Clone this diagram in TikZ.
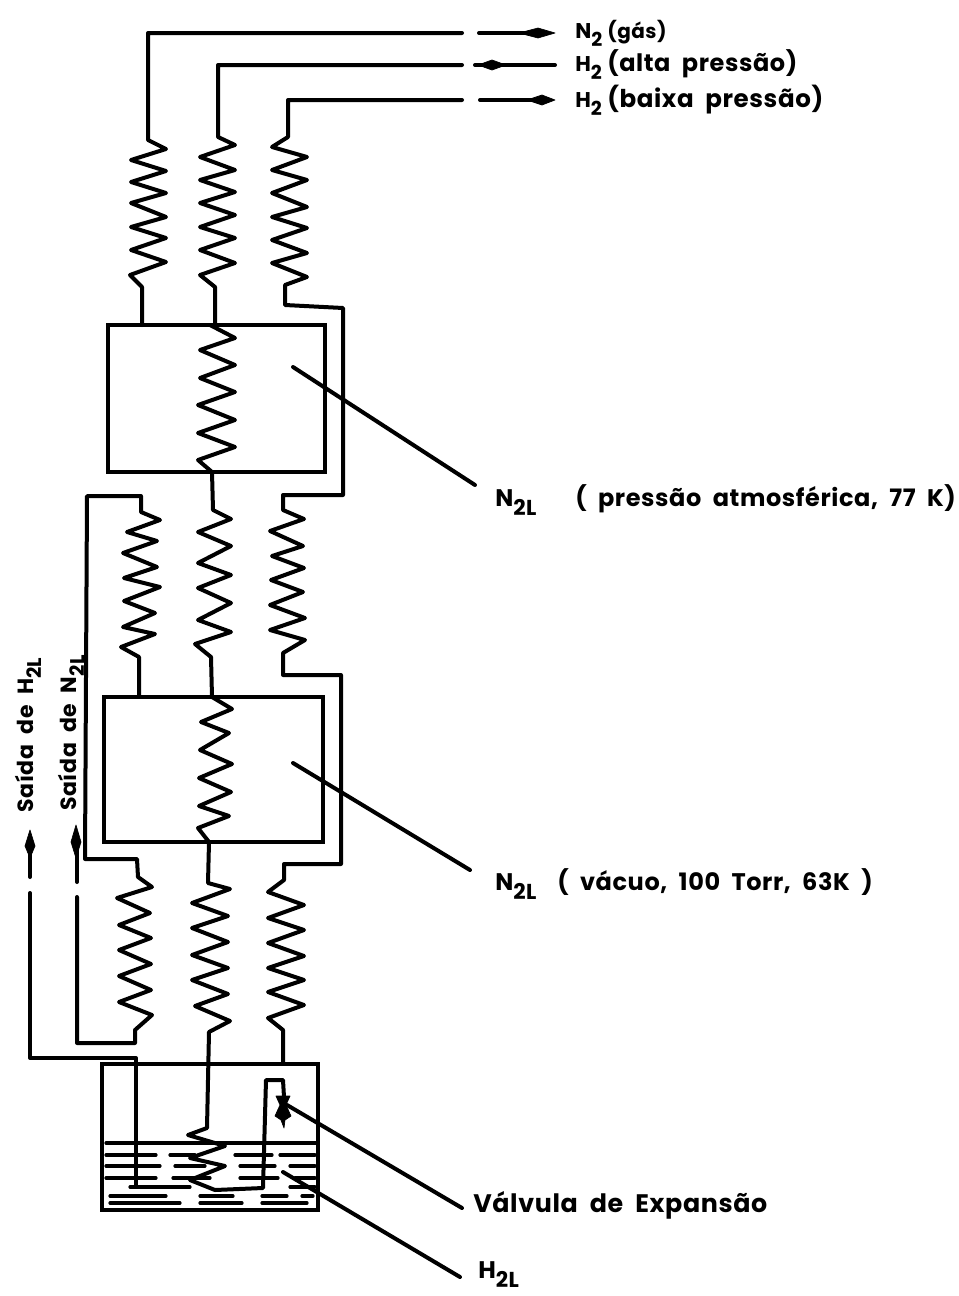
\documentclass[tikz,border=0pt]{standalone}
\usepackage{fontspec}
\setmainfont{Poppins}[LetterSpace=2.5,WordSpace=2]
\newcommand{\lowsub}[1]{\raisebox{-0.4em}{\scalebox{0.9}{#1}}}
\begin{document}
\begin{tikzpicture}[x=0.75pt,y=-0.75pt,
  pipe/.style={line width=3pt,line join=round,line cap=round},
  level/.style={line width=2.4pt,line cap=round},
  lead/.style={line width=3pt,line cap=round},
  tip/.style={fill=black,draw=black,line width=0.5pt,line join=round},
  lbl/.style={anchor=base west,inner sep=0pt,font=\bfseries\fontsize{18}{20}\selectfont},
  toplbl/.style={lbl,font=\bfseries\fontsize{16}{20}\selectfont},
  rlbl/.style={anchor=base,inner sep=0pt,rotate=90,font=\bfseries\fontsize{16.5}{18}\selectfont},
  box/.style={draw,line width=3pt,inner sep=0pt,outer sep=0pt,anchor=north west}]
\useasboundingbox (0,0) rectangle (958,1296);
\fill[white] (0,0) rectangle (958,1296);

% vessels
\node[box,minimum width=217pt*0.75,minimum height=147pt*0.75] (boxA) at (108,325) {};
\node[box,minimum width=219pt*0.75,minimum height=145pt*0.75] (boxB) at (104,697) {};
\node[box,minimum width=216pt*0.75,minimum height=146pt*0.75] (bath) at (102,1064) {};

% top left coil
\draw[pipe] (462,33) -- (148,33) -- (148,140) -- (166,149) -- (131,160) -- (166,171) -- (131,182) -- (166,193) -- (131,203) -- (166,217) -- (131,227) -- (166,238) -- (131,250) -- (166,262) -- (130,275) -- (142,287) -- (142,325);
% top centre coil, through box A and on
\draw[pipe] (462,65) -- (218,65) -- (218,137) -- (235,145) -- (200,157) -- (235,170) -- (200,180) -- (235,192) -- (200,203) -- (235,215) -- (200,227) -- (235,238) -- (200,250) -- (235,263) -- (200,275) -- (215,287) -- (215,325);
\draw[pipe] (210,325) -- (235,338) -- (200,350) -- (235,365) -- (200,378) -- (235,392) -- (198,405) -- (235,420) -- (198,433) -- (235,447) -- (198,460) -- (212,472) -- (213,510) -- (231,519) -- (198,532) -- (231,546) -- (198,563) -- (231,575) -- (198,588) -- (231,603) -- (198,620) -- (231,632) -- (195,644) -- (211,657) -- (212,697) -- (232,709) -- (201,722) -- (229,733) -- (200,750) -- (232,764) -- (199,778) -- (231,792) -- (199,806) -- (229,816) -- (198,828) -- (209,842) -- (208,883) -- (230,889) -- (192,903) -- (228,916) -- (192,928) -- (228,942) -- (192,955) -- (228,968) -- (192,980) -- (228,994) -- (195,1006) -- (230,1021) -- (209,1032) -- (207,1128) -- (188,1135) -- (225,1146) -- (190,1158) -- (225,1166) -- (190,1180) -- (215,1190) -- (263,1188) -- (266,1080) -- (283,1080) -- (284,1097);
% right coil chain
\draw[pipe] (462,100) -- (288,100) -- (288,137) -- (272,147) -- (307,157) -- (272,170) -- (307,180) -- (272,193) -- (307,207) -- (272,217) -- (307,228) -- (272,240) -- (307,253) -- (272,263) -- (307,277) -- (285,285) -- (285,305) -- (343,308) -- (343,495) -- (283,495) -- (283,510) -- (304,519) -- (270,531) -- (303,546) -- (272,556) -- (304,568) -- (271,580) -- (303,592) -- (270,605) -- (305,618) -- (270,630) -- (305,640) -- (283,653) -- (283,675) -- (341,675) -- (341,864) -- (284,864) -- (284,880) -- (268,892) -- (304,905) -- (268,918) -- (304,930) -- (268,943) -- (304,956) -- (268,968) -- (304,980) -- (268,992) -- (304,1005) -- (268,1018) -- (283,1030) -- (283,1063);
% left chain, N2 outlet
\draw[pipe] (139,696) -- (139,657) -- (121,647) -- (155,634) -- (123,627) -- (155,613) -- (124,601) -- (160,587) -- (124,578) -- (157,567) -- (123,553) -- (157,541) -- (127,532) -- (160,520) -- (141,512) -- (141,496) -- (87,496) -- (85,859) -- (137,859) -- (138,877) -- (152,887) -- (117,898) -- (150,913) -- (119,925) -- (151,938) -- (119,950) -- (151,964) -- (119,976) -- (151,990) -- (119,1002) -- (152,1015) -- (135,1030) -- (135,1043) -- (77,1043) -- (77,897);
\draw[pipe] (77,882) -- (77,835);
% H2L outlet
\draw[pipe] (136,1185) -- (136,1058) -- (30,1058) -- (30,893);
\draw[pipe] (30,877) -- (30,840);
% outlet arrows
\fill[tip] (30,830) -- (35,846) -- (30,858) -- (25,846) -- cycle;
\fill[tip] (76,825) -- (81,842) -- (76,858) -- (71,842) -- cycle;
% top arrows
\draw[pipe] (479,33) -- (540,33);
\draw[pipe] (475,65) -- (555,65);
\draw[pipe] (480,100) -- (540,100);
\fill[tip] (555,33) -- (538,28) -- (519,33) -- (538,38) -- cycle;
\fill[tip] (478,65) -- (492,60) -- (506,65) -- (492,70) -- cycle;
\fill[tip] (555,100) -- (542,95) -- (527,100) -- (542,105) -- cycle;
% valve
\fill[tip] (276,1096) -- (290,1096) -- (286,1105) -- (291,1116) -- (285,1120) -- (284,1128) -- (281,1120) -- (275,1116) -- (280,1105) -- cycle;
% liquid hydrogen
\draw[level] (106,1143) -- (316,1143);
\draw[level] (106,1155) -- (156,1155) (170,1155) -- (195,1155) (235,1155) -- (272,1155) (280,1155) -- (315,1155);
\draw[level] (106,1166) -- (160,1166) (175,1166) -- (205,1166) (240,1166) -- (275,1166) (290,1166) -- (315,1166);
\draw[level] (106,1178) -- (156,1178) (173,1178) -- (210,1178) (240,1178) -- (278,1178) (295,1178) -- (315,1178);
\draw[level] (130,1187) -- (190,1187) (290,1187) -- (315,1187);
\draw[level] (110,1196) -- (166,1196) (200,1196) -- (233,1196) (262,1196) -- (287,1196) (302,1196) -- (313,1196);
\draw[level] (110,1203) -- (180,1203) (200,1203) -- (242,1203) (262,1203) -- (307,1203);
% leader ends
\coordinate (leadAs) at (293,367); \coordinate (leadAe) at (475,485);
\coordinate (leadBs) at (293,763); \coordinate (leadBe) at (470,870);
\coordinate (leadCs) at (287,1105); \coordinate (leadCe) at (462,1208);
\coordinate (leadDs) at (283,1172); \coordinate (leadDe) at (460,1277);
\draw[lead] (leadAs) -- (leadAe);
\draw[lead] (leadBs) -- (leadBe);
\draw[lead] (leadCs) -- (leadCe);
\draw[lead] (leadDs) -- (leadDe);
% labels
\node[toplbl] (t1) at (575,38) {N\lowsub{2}};
\node[lbl,font=\bfseries\fontsize{15}{18}\selectfont] (t1b) at (607,38) {(gás)};
\node[toplbl] (t2) at (575,71) {H\lowsub{2}};
\node[lbl] (t2b) at (607,71) {(alta pressão)};
\node[toplbl] (t3) at (575,107) {H\lowsub{2}};
\node[lbl,font=\bfseries\fontsize{18.4}{20}\selectfont] (t3b) at (607,107) {(baixa pressão)};
\node[lbl] (t4) at (495,506) {N\lowsub{2L}};
\node[lbl] (t4b) at (575,506) {( pressão atmosférica, 77 K)};
\node[lbl] (t5) at (495,890) {N\lowsub{2L}};
\node[lbl] (t5b) at (557,890) {( vácuo, 100 Torr, 63K )};
\node[lbl,font=\bfseries\fontsize{19}{20}\selectfont] (t6) at (473,1212) {Válvula de Expansão};
\node[lbl] (t7) at (478,1278) {H\lowsub{2L}};
\node[rlbl] (t8) at (33,735) {Saída de H\lowsub{2L}};
\node[rlbl] (t9) at (76,733) {Saída de N\lowsub{2L}};
\end{tikzpicture}
\end{document}
